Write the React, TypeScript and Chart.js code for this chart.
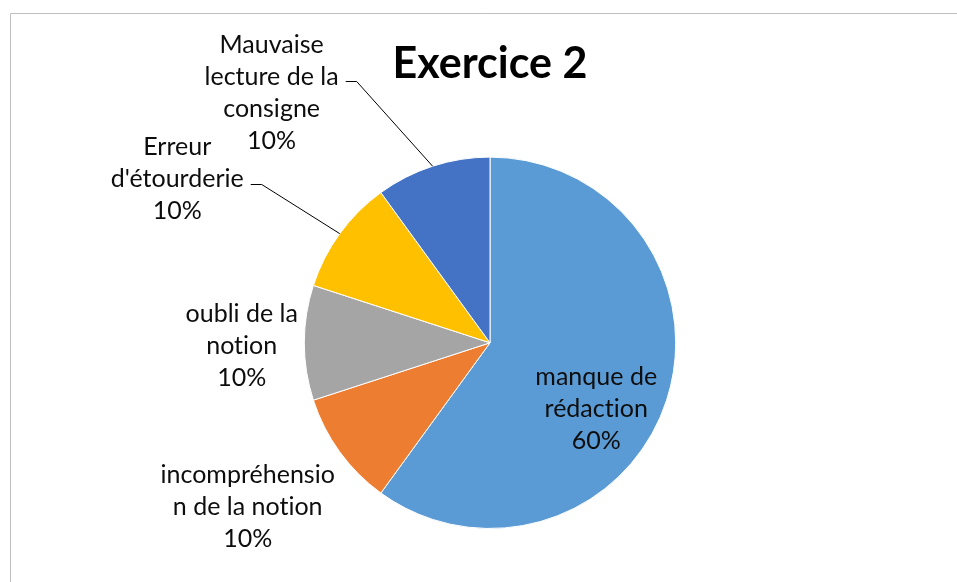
import React, { useEffect, useRef } from "react";
import { Chart, registerables } from "chart.js";

Chart.register(...registerables);

const categories = [
  "manque de rédaction",
  "incompréhension de la notion",
  "oubli de la notion",
  "Erreur d'étourderie",
  "Mauvaise lecture de la consigne",
];
const values = [60, 10, 10, 10, 10];
const colors = ["#5B9BD5", "#ED7D31", "#A5A5A5", "#FFC000", "#4472C4"];
// wrapped category text as shown in the chart
const wrappedLabels = [
  ["manque de", "rédaction"],
  ["incompréhensio", "n de la notion"],
  ["oubli de la", "notion"],
  ["Erreur", "d'étourderie"],
  ["Mauvaise", "lecture de la", "consigne"],
];
const titleText = "Exercice 2";

// label placement in radius units relative to pie centre, and whether a leader line is drawn
const labelPlacement = [
  { dx: 0.572, dy: 0.356, leader: false },
  { dx: -1.305, dy: 0.882, leader: false },
  { dx: -1.337, dy: 0.016, leader: false },
  { dx: -1.684, dy: -0.88, leader: true, leaderLine: 1 },
  { dx: -1.176, dy: -1.348, leader: true, leaderLine: 1 },
];

const LABEL_FONT = "25px Lato";
const LINE_H = 32;

const framePlugin = {
  id: "frame",
  beforeDraw(chart: any) {
    const ctx = chart.ctx;
    ctx.save();
    ctx.fillStyle = "#ffffff";
    ctx.fillRect(0, 0, chart.width, chart.height);
    ctx.strokeStyle = "#BFBFBF";
    ctx.lineWidth = 1;
    ctx.beginPath();
    ctx.moveTo(10.5, chart.height);
    ctx.lineTo(10.5, 13.5);
    ctx.lineTo(chart.width, 13.5);
    ctx.stroke();
    ctx.restore();
  },
};

const labelPlugin = {
  id: "pieLabels",
  afterDatasetsDraw(chart: any) {
    const ctx = chart.ctx;
    const meta = chart.getDatasetMeta(0);
    const total = values.reduce((a, b) => a + b, 0);
    ctx.save();
    ctx.font = LABEL_FONT;
    ctx.textAlign = "center";
    ctx.textBaseline = "middle";
    try {
      (ctx as any).letterSpacing = "0.01px";
    } catch (e) {}
    meta.data.forEach((arc: any, i: number) => {
      const p = arc.getProps(["x", "y", "startAngle", "endAngle", "outerRadius"], true);
      const r = p.outerRadius;
      const cx = p.x + labelPlacement[i].dx * r;
      const cy = p.y + labelPlacement[i].dy * r;
      const lines = [...wrappedLabels[i], Math.round((values[i] / total) * 100) + "%"];
      const top = cy - ((lines.length - 1) * LINE_H) / 2;
      ctx.fillStyle = "#0d0d0d";
      lines.forEach((t, k) => ctx.fillText(t, cx, top + k * LINE_H));
      if (labelPlacement[i].leader) {
        const li = labelPlacement[i].leaderLine as number;
        const w = ctx.measureText(lines[li]).width;
        const sx = cx + w / 2 + 7;
        const sy = top + li * LINE_H + 5;
        const mid = (p.startAngle + p.endAngle) / 2;
        const ex = p.x + Math.cos(mid) * r;
        const ey = p.y + Math.sin(mid) * r;
        ctx.strokeStyle = "#000000";
        ctx.lineWidth = 1;
        ctx.beginPath();
        ctx.moveTo(sx, Math.round(sy) + 0.5);
        ctx.lineTo(sx + 11, Math.round(sy) + 0.5);
        ctx.lineTo(ex, ey);
        ctx.stroke();
      }
    });
    ctx.restore();
  },
};

export default function App() {
  const ref = useRef<HTMLCanvasElement>(null);
  useEffect(() => {
    document.body.style.margin = "0";
    const chart = new Chart(ref.current!, {
      type: "pie",
      data: {
        labels: categories,
        datasets: [
          {
            data: values,
            backgroundColor: colors,
            borderColor: "#ffffff",
            borderWidth: 1,
          },
        ],
      },
      options: {
        responsive: false,
        animation: false,
        layout: { padding: { left: 303, right: 280, top: 0, bottom: 53 } },
        plugins: {
          legend: { display: false },
          tooltip: { enabled: false },
          title: {
            display: true,
            text: titleText,
            color: "#000000",
            font: { family: "Lato", size: 43, weight: "bold", lineHeight: 1.2 },
            padding: { top: 38, bottom: 67 },
          },
        },
      },
      plugins: [framePlugin, labelPlugin],
    });
    return () => chart.destroy();
  }, []);
  return (
    <div style={{ position: "absolute", left: 0, top: 0, width: 957, height: 582 }}>
      <canvas ref={ref} width={957} height={582} />
    </div>
  );
}
